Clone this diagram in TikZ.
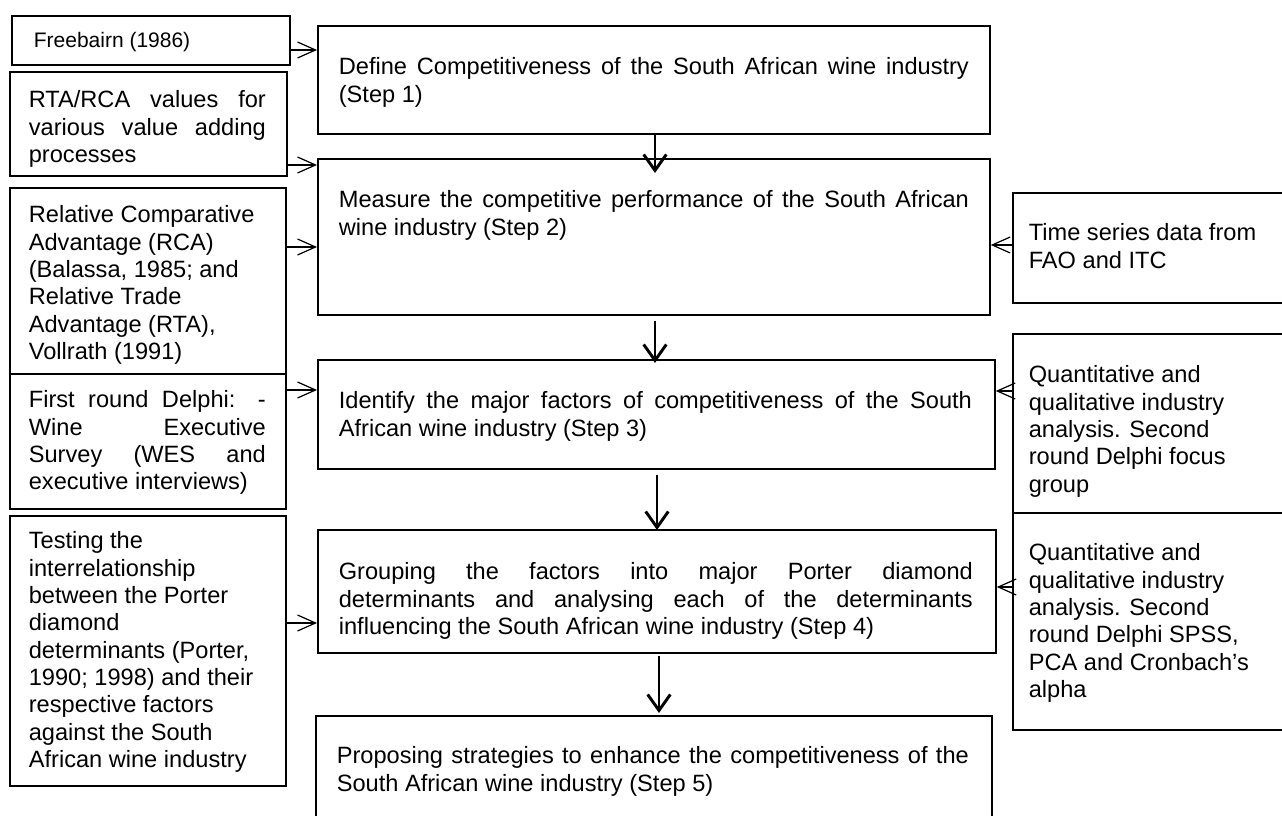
\documentclass[tikz,border=0pt]{standalone}
\usepackage{fontspec}
\setmainfont{Liberation Sans}
\usetikzlibrary{arrows.meta}

% one screen pixel of the layout grid
\newdimen\px \px=0.75pt
% a line stretched to the full text width
\newcommand\jl[1]{\makebox[\linewidth][s]{#1}}
% box contents: #1 width, #2 height, #3 left pad, #4 first baseline, #5 text width, #6 lines
\newcommand\boxbody[6]{%
  \parbox[c][#2\px][t]{#1\px}{%
    \vspace*{\dimexpr#4\px-18pt\relax}%
    \hspace*{#3\px}%
    \parbox[t]{#5\px}{\raggedright\rule{0pt}{18pt}#6}}}

\begin{document}
\begin{tikzpicture}[x=0.75pt,y=-0.75pt,
  box/.style={draw, line width=1.3pt, inner sep=0pt, anchor=north west,
              font=\fontsize{17.7pt}{20.5pt}\selectfont},
  smallbox/.style={box, font=\fontsize{15.75pt}{19pt}\selectfont},
  flow/.style={line width=2.2pt, -{Straight Barb[length=12pt,width=17pt]}},
  feed/.style={line width=0.9pt, -{Straight Barb[length=13.5pt,width=12pt]}}]

\fill[white] (0,0) rectangle (1282,816);
\useasboundingbox (0,0) rectangle (1282,816);
\clip (0,0) rectangle (1282,816);

% sources on the left
\node[smallbox] (fb) at (11,15) {\boxbody{278}{49}{22}{32}{250}{Freebairn (1986)}};
\node[box] (rta) at (9,71) {\boxbody{277}{104}{19}{36}{237}{%
  \jl{RTA/RCA values for}\\\jl{various value adding}\\processes}};
\node[box] (rca) at (9,187) {\boxbody{276}{186}{19}{35}{250}{%
  Relative Comparative\\Advantage (RCA)\\(Balassa, 1985; and\\Relative Trade\\Advantage (RTA),\\Vollrath (1991)}};
\node[box] (del) at (9,373) {\boxbody{276}{135}{19}{34}{237}{%
  \jl{First round Delphi: -}\\\jl{Wine Executive}\\\jl{Survey (WES and}\\executive interviews)}};
\node[box] (tst) at (9,515) {\boxbody{276}{270}{19}{33}{250}{%
  Testing the\\interrelationship\\between the Porter\\diamond\\determinants (Porter,\\1990; 1998) and their\\respective factors\\against the South\\African wine industry}};

% the five steps
\node[box] (s1) at (317,25) {\boxbody{672}{108}{21}{49}{630}{%
  \jl{Define Competitiveness of the South African wine industry}\\(Step 1)}};
\node[box] (s2) at (317,158) {\boxbody{672}{156}{21}{49}{630}{%
  \jl{Measure the competitive performance of the South African}\\wine industry (Step 2)}};
\node[box] (s3) at (317,359) {\boxbody{677}{109}{21}{49}{633}{%
  \jl{Identify the major factors of competitiveness of the South}\\African wine industry (Step 3)}};
\node[box] (s4) at (317,529) {\boxbody{678}{123}{21}{50}{634}{%
  \jl{Grouping the factors into major Porter diamond}\\\jl{determinants and analysing each of the determinants}\\influencing the South African wine industry (Step 4)}};
\node[box] (s5) at (315,715) {\boxbody{676}{130}{21}{48}{632}{%
  \jl{Proposing strategies to enhance the competitiveness of the}\\South African wine industry (Step 5)}};

% sources on the right
\node[box] (ts) at (1012,192) {\boxbody{290}{110}{16}{48}{260}{%
  Time series data from\\FAO and ITC}};
\node[box] (q1) at (1012,333) {\boxbody{290}{179}{16}{49}{260}{%
  Quantitative and\\qualitative industry\\analysis. Second\\round Delphi focus\\group}};
\node[box] (q2) at (1012,512) {\boxbody{290}{217}{16}{48}{260}{%
  Quantitative and\\qualitative industry\\analysis. Second\\round Delphi SPSS,\\PCA and Cronbach’s\\alpha}};

% inputs from the left
\draw[feed] (fb.east  |- 0,50)  -- (s1.west |- 0,50);
\draw[feed] (rta.east |- 0,165) -- (s2.west |- 0,165);
\draw[feed] (rca.east |- 0,247) -- (s2.west |- 0,247);
\draw[feed] (del.east |- 0,390) -- (s3.west |- 0,390);
\draw[feed] (tst.east |- 0,623) -- (s4.west |- 0,623);

% inputs from the right
\draw[feed] (ts.west |- 0,245) -- (s2.east |- 0,245);
\draw[feed] (q1.west |- 0,391) -- (s3.east |- 0,391);
\draw[feed] (q2.west |- 0,587) -- (s4.east |- 0,587);

% step sequence
\draw[flow, shorten >=-11.25pt] (s1.south -| 655,0) -- (s2.north -| 655,0);
\draw[flow, shorten <=3.75pt, shorten >=-3pt] (s2.south -| 655,0) -- (s3.north -| 655,0);
\draw[flow, shorten <=3.75pt, shorten >=-0.75pt] (s3.south -| 657,0) -- (s4.north -| 657,0);
\draw[flow, shorten <=1.5pt, shorten >=1.5pt] (s4.south -| 659,0) -- (s5.north -| 659,0);
\end{tikzpicture}
\end{document}
